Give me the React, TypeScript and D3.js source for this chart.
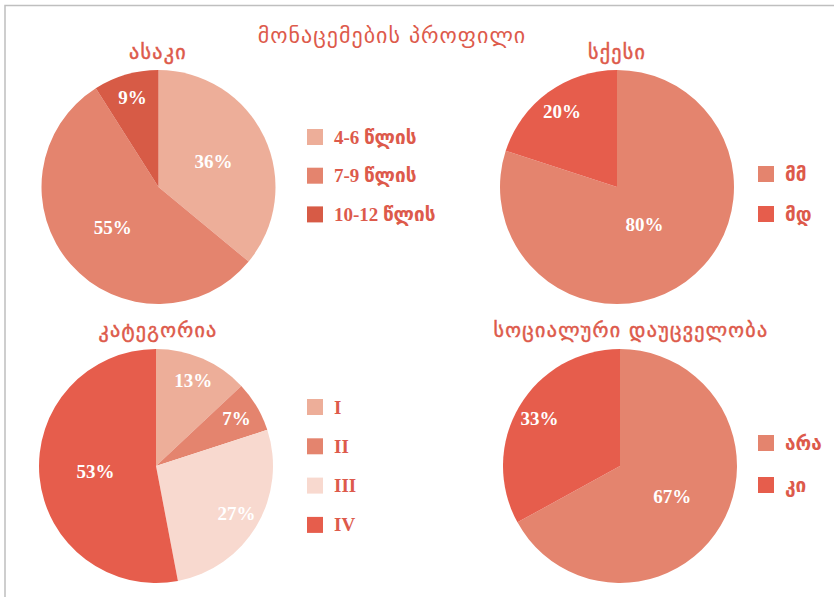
import { useRef, useEffect } from "react";
import * as d3 from "d3";

const chartTitle = "მონაცემების პროფილი";

// ასაკი
const ageLabels = ["4-6 წლის", "7-9 წლის", "10-12 წლის"];
const ageValues = [36, 55, 9];
const ageColors = ["#EDAE99", "#E4846E", "#D75B46"];

// სქესი
const sexLabels = ["მმ", "მდ"];
const sexValues = [80, 20];
const sexColors = ["#E4846E", "#E65D4C"];

// კატეგორია
const catLabels = ["I", "II", "III", "IV"];
const catValues = [13, 7, 27, 53];
const catColors = ["#EDAE99", "#E4846E", "#F8D9CF", "#E65D4C"];

// სოციალური დაუცველობა
const socLabels = ["არა", "კი"];
const socValues = [67, 33];
const socColors = ["#E4846E", "#E65D4C"];

const textColor = "#DD5A4B";
const serif = "'Liberation Serif', 'DejaVu Sans', serif";
const geo = "'DejaVu Sans', sans-serif";

const pies = [
  { title: "ასაკი", labels: ageLabels, values: ageValues, colors: ageColors, cx: 158.5, cy: 187, tx: 158, ty: 52, lx: 307, ly: 137, step: 38.7 },
  { title: "სქესი", labels: sexLabels, values: sexValues, colors: sexColors, cx: 617, cy: 187, tx: 617, ty: 52, lx: 758, ly: 174, step: 40 },
  { title: "კატეგორია", labels: catLabels, values: catValues, colors: catColors, cx: 156, cy: 466, tx: 158, ty: 330, lx: 307, ly: 407, step: 39.3 },
  { title: "სოციალური დაუცველობა", labels: socLabels, values: socValues, colors: socColors, cx: 620, cy: 466, tx: 631, ty: 330, lx: 758, ly: 443, step: 42 },
];

const App = () => {
  const svgRef = useRef<SVGSVGElement>(null);

  useEffect(() => {
    const svg = d3.select(svgRef.current);
    svg.selectAll("*").remove();

    const width = 834;
    const height = 597;
    const radius = 117;

    svg.append("rect").attr("width", width).attr("height", height).attr("fill", "#fff");

    // ჩარჩო
    svg.append("path")
      .attr("d", `M5,${height} V5.5 H${width}`)
      .attr("fill", "none")
      .attr("stroke", "#BFBFBF")
      .attr("stroke-width", 1.5);

    svg.append("text")
      .attr("x", 392)
      .attr("y", 35)
      .attr("text-anchor", "middle")
      .attr("dominant-baseline", "central")
      .attr("font-family", geo)
      .attr("font-size", 22)
      .attr("letter-spacing", 1)
      .attr("fill", textColor)
      .text(chartTitle);

    const pie = d3.pie<number>().sort(null).value((d) => d);
    const arc = d3.arc<d3.PieArcDatum<number>>().innerRadius(0).outerRadius(radius);

    pies.forEach((p) => {
      const total = d3.sum(p.values);
      const g = svg.append("g").attr("transform", `translate(${p.cx},${p.cy})`);
      const arcs = pie(p.values);

      g.selectAll("path")
        .data(arcs)
        .enter()
        .append("path")
        .attr("d", arc)
        .attr("fill", (d, i) => p.colors[i]);

      // წილის წარწერები: პატარა წილებში კიდესთან, დიდებში ცენტრთან
      g.selectAll("text")
        .data(arcs)
        .enter()
        .append("text")
        .attr("transform", (d) => {
          const f = d.value / total;
          const r = f < 0.35 ? radius * 0.8 : f > 0.7 ? radius * 0.4 : radius * 0.52;
          const c = d3.arc<d3.PieArcDatum<number>>().innerRadius(r).outerRadius(r).centroid(d);
          return `translate(${c[0]},${c[1]})`;
        })
        .attr("text-anchor", "middle")
        .attr("dominant-baseline", "central")
        .attr("font-family", serif)
        .attr("font-weight", "bold")
        .attr("font-size", 19)
        .attr("fill", "#fff")
        .text((d) => `${d.value}%`);

      svg.append("text")
        .attr("x", p.tx)
        .attr("y", p.ty)
        .attr("text-anchor", "middle")
        .attr("dominant-baseline", "central")
        .attr("font-family", geo)
        .attr("font-size", 20)
        .attr("letter-spacing", 1.3)
        .attr("fill", textColor)
        .attr("stroke", textColor)
        .attr("stroke-width", 0.5)
        .text(p.title);

      const legend = svg.append("g");
      p.labels.forEach((lab, i) => {
        const y = p.ly + i * p.step;
        legend.append("rect")
          .attr("x", p.lx)
          .attr("y", y - 8)
          .attr("width", 16)
          .attr("height", 16)
          .attr("fill", p.colors[i]);
        legend.append("text")
          .attr("x", p.lx + 27)
          .attr("y", y)
          .attr("dominant-baseline", "central")
          .attr("font-family", serif)
          .attr("font-weight", "bold")
          .attr("font-size", 19)
          .attr("fill", textColor)
          .text(lab);
      });
    });
  }, []);

  return (
    <div style={{ position: "absolute", left: 0, top: 0 }}>
      <svg ref={svgRef} width={834} height={597} style={{ display: "block" }}></svg>
    </div>
  );
};

export default App;
